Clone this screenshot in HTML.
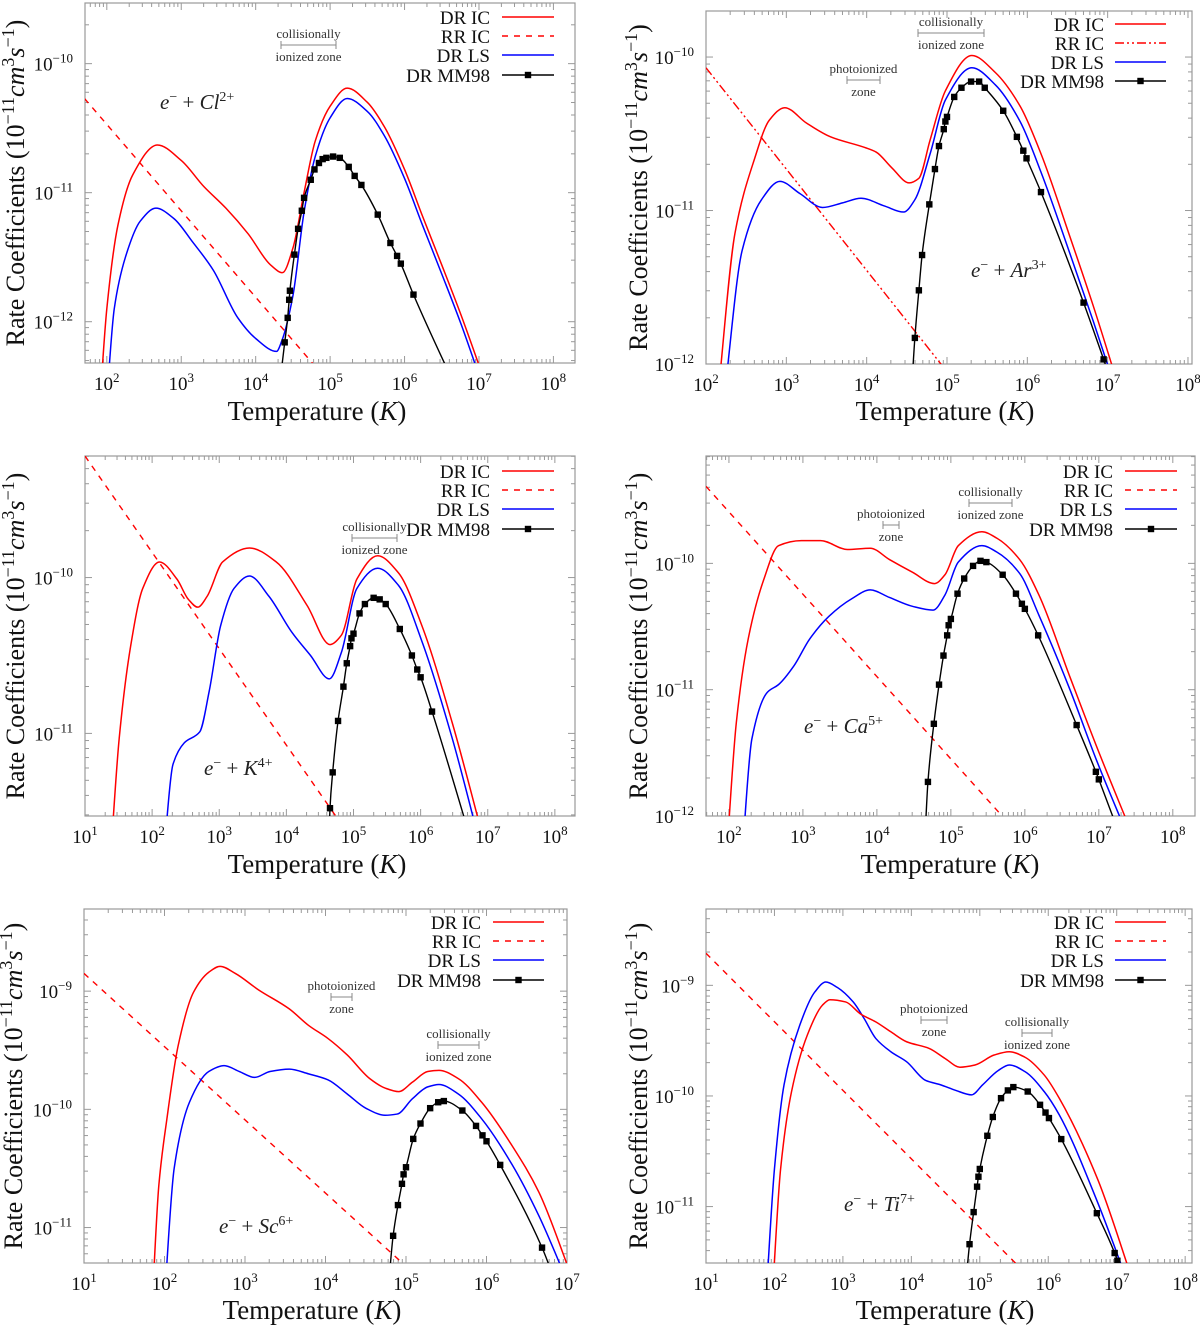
<!DOCTYPE html>
<html>
<head>
<meta charset="utf-8">
<style>
html,body{margin:0;padding:0;background:#fff;}
svg{display:block;font-family:"Liberation Serif",serif;}
</style>
</head>
<body>
<svg id="chart" width="1200" height="1325" viewBox="0 0 1200 1325" xmlns="http://www.w3.org/2000/svg"></svg>
<script>
// ===== DATA (log10 T, log10 rate) =====
// Panel 1: e- + Cl2+
const clRedT=[1.91,2.0,2.15,2.35,2.68,3.0,3.3,3.6,3.9,4.2,4.36,4.5,4.65,4.8,5.0,5.23,5.5,5.73,6.0,6.24,6.5,6.76,7.1];
const clRedR=[-12.6,-11.9,-11.25,-10.86,-10.63,-10.75,-10.95,-11.12,-11.32,-11.56,-11.62,-11.43,-11.0,-10.6,-10.33,-10.19,-10.3,-10.49,-10.82,-11.18,-11.56,-11.95,-12.5];
const clBlueT=[2.0,2.1,2.25,2.45,2.66,2.9,3.15,3.43,3.76,4.0,4.28,4.35,4.5,4.65,4.8,5.0,5.23,5.5,5.73,6.0,6.24,6.5,6.76,7.08];
const clBlueR=[-12.6,-11.9,-11.5,-11.22,-11.12,-11.2,-11.38,-11.6,-11.97,-12.13,-12.23,-12.15,-11.8,-11.15,-10.72,-10.42,-10.27,-10.37,-10.56,-10.89,-11.25,-11.63,-12.02,-12.55];
const clRRT=[1.7,5.0];
const clRRR=[-10.27,-12.48];
const clMMT=[4.30,4.39,4.43,4.45,4.46,4.52,4.57,4.62,4.65,4.74,4.79,4.85,4.9,4.95,5.04,5.13,5.25,5.33,5.42,5.64,5.81,5.9,5.95,6.12,6.76];
const clMMR=[-12.6,-12.16,-11.97,-11.83,-11.76,-11.48,-11.28,-11.14,-11.04,-10.9,-10.82,-10.77,-10.74,-10.73,-10.72,-10.73,-10.8,-10.87,-10.94,-11.17,-11.39,-11.49,-11.55,-11.79,-12.6];
// Panel 2: e- + Ar3+
const arRedT=[2.15,2.36,2.6,2.79,2.98,3.25,3.55,3.98,4.12,4.31,4.53,4.65,4.79,4.98,5.31,5.6,5.91,6.17,6.53,6.82,7.12];
const arRedR=[-12.2,-11.15,-10.67,-10.41,-10.33,-10.43,-10.52,-10.59,-10.62,-10.72,-10.82,-10.79,-10.54,-10.22,-9.99,-10.1,-10.32,-10.63,-11.17,-11.62,-12.12];
const arBlueT=[2.23,2.45,2.69,2.92,3.17,3.45,3.7,3.93,4.22,4.46,4.6,4.79,4.98,5.31,5.6,5.91,6.17,6.53,6.82,7.06];
const arBlueR=[-12.2,-11.26,-10.93,-10.81,-10.89,-10.98,-10.95,-10.92,-10.97,-11.01,-10.93,-10.63,-10.28,-10.07,-10.18,-10.42,-10.75,-11.28,-11.72,-12.1];
const arRRT=[2.0,5.0];
const arRRR=[-10.07,-12.05];
const arMMT=[4.545,4.6,4.65,4.69,4.78,4.85,4.9,4.96,4.98,5.0,5.09,5.18,5.3,5.4,5.47,5.7,5.87,5.95,5.99,6.17,6.7,6.95,7.17];
const arMMR=[-12.3,-11.83,-11.52,-11.29,-10.96,-10.73,-10.58,-10.47,-10.42,-10.39,-10.26,-10.2,-10.16,-10.16,-10.2,-10.35,-10.52,-10.61,-10.66,-10.88,-11.6,-11.97,-12.3];
// Panel 3: e- + K4+
const kRedT=[1.38,1.51,1.68,1.86,2.11,2.37,2.54,2.68,2.82,3.05,3.45,3.85,4.31,4.65,4.82,5.05,5.36,5.67,6.02,6.47,6.95];
const kRedR=[-11.8,-11.03,-10.44,-10.07,-9.9,-10.01,-10.14,-10.19,-10.12,-9.9,-9.81,-9.9,-10.18,-10.43,-10.37,-10.01,-9.86,-9.97,-10.31,-10.93,-11.7];
const kBlueT=[2.17,2.31,2.48,2.71,2.85,3.02,3.22,3.45,3.74,4.08,4.36,4.64,4.82,5.05,5.36,5.67,6.02,6.47,6.88];
const kBlueR=[-11.8,-11.2,-11.06,-10.99,-10.73,-10.31,-10.07,-9.99,-10.12,-10.35,-10.5,-10.65,-10.48,-10.07,-9.94,-10.05,-10.41,-11.03,-11.7];
const kRRT=[1.0,4.8];
const kRRR=[-9.22,-11.57];
const kMMT=[4.63,4.65,4.69,4.77,4.85,4.9,4.95,4.97,5.0,5.09,5.17,5.3,5.39,5.48,5.69,5.87,5.95,6.0,6.17,6.76];
const kMMR=[-11.8,-11.48,-11.25,-10.92,-10.7,-10.55,-10.44,-10.39,-10.36,-10.23,-10.17,-10.13,-10.14,-10.17,-10.33,-10.5,-10.59,-10.64,-10.86,-11.7];
// Panel 4: e- + Ca5+
const caRedT=[1.97,2.1,2.26,2.47,2.67,2.98,3.24,3.6,3.91,4.17,4.48,4.78,4.92,5.1,5.42,5.62,5.93,6.19,6.61,6.97,7.42];
const caRedR=[-12.3,-11.26,-10.6,-10.13,-9.86,-9.82,-9.82,-9.89,-9.88,-9.97,-10.07,-10.16,-10.09,-9.86,-9.75,-9.8,-9.97,-10.25,-10.9,-11.45,-12.1];
const caBlueT=[2.18,2.31,2.52,2.67,2.88,3.09,3.35,3.66,3.91,4.17,4.48,4.76,4.92,5.1,5.42,5.62,5.93,6.19,6.61,6.97,7.35];
const caBlueR=[-12.3,-11.39,-11.02,-10.96,-10.81,-10.6,-10.42,-10.28,-10.21,-10.27,-10.34,-10.37,-10.25,-9.99,-9.86,-9.91,-10.08,-10.41,-11.0,-11.56,-12.1];
const caRRT=[1.69,5.8];
const caRRR=[-9.39,-12.07];
const caMMT=[4.64,4.69,4.77,4.84,4.9,4.95,4.97,5.0,5.09,5.18,5.3,5.4,5.48,5.7,5.88,5.96,6.0,6.18,6.7,6.96,7.0,7.25];
const caMMR=[-12.3,-11.73,-11.27,-10.96,-10.73,-10.57,-10.49,-10.44,-10.24,-10.12,-10.02,-9.98,-9.99,-10.09,-10.24,-10.32,-10.36,-10.57,-11.28,-11.65,-11.71,-12.1];
// Panel 5: e- + Sc6+
const scRedT=[1.85,1.93,2.03,2.17,2.36,2.55,2.69,2.88,3.17,3.55,3.79,4.03,4.27,4.55,4.74,4.91,5.08,5.27,5.41,5.65,5.94,6.32,6.65,7.05];
const scRedR=[-11.6,-10.64,-10.08,-9.46,-9.01,-8.84,-8.79,-8.85,-8.99,-9.15,-9.29,-9.4,-9.54,-9.74,-9.82,-9.85,-9.77,-9.68,-9.67,-9.74,-9.94,-10.31,-10.7,-11.4];
const scBlueT=[2.0,2.12,2.31,2.55,2.74,2.93,3.12,3.31,3.55,3.79,4.03,4.27,4.5,4.74,4.89,5.08,5.27,5.41,5.65,5.94,6.32,6.65,7.0];
const scBlueR=[-11.6,-10.5,-9.94,-9.68,-9.63,-9.68,-9.73,-9.68,-9.66,-9.7,-9.75,-9.87,-9.99,-10.05,-10.04,-9.91,-9.81,-9.79,-9.87,-10.08,-10.47,-10.9,-11.45];
const scRRT=[1.0,5.1];
const scRRR=[-8.85,-11.39];
const scMMT=[4.77,4.84,4.9,4.95,4.97,5.0,5.09,5.18,5.3,5.4,5.47,5.7,5.87,5.95,6.0,6.17,6.69,6.85];
const scMMR=[-11.6,-11.07,-10.81,-10.63,-10.55,-10.49,-10.25,-10.12,-9.99,-9.94,-9.93,-10.01,-10.14,-10.22,-10.27,-10.47,-11.17,-11.45];
// Panel 6: e- + Ti7+
const tiRedT=[1.97,2.09,2.25,2.48,2.7,2.81,3.04,3.26,3.48,3.7,3.93,4.26,4.49,4.71,4.93,5.21,5.43,5.66,5.94,6.16,6.72,7.25];
const tiRedR=[-11.8,-10.66,-9.96,-9.45,-9.18,-9.13,-9.15,-9.26,-9.33,-9.42,-9.51,-9.57,-9.66,-9.74,-9.72,-9.63,-9.6,-9.65,-9.81,-10.02,-10.75,-11.7];
const tiBlueT=[1.88,2.0,2.14,2.37,2.59,2.75,2.92,3.15,3.31,3.48,3.7,3.93,4.21,4.43,4.65,4.88,5.04,5.27,5.43,5.66,5.94,6.16,6.72,7.17];
const tiBlueR=[-11.8,-10.66,-9.9,-9.36,-9.06,-8.97,-9.02,-9.15,-9.3,-9.48,-9.6,-9.69,-9.86,-9.9,-9.95,-9.99,-9.9,-9.77,-9.72,-9.78,-9.96,-10.17,-10.96,-11.7];
const tiRRT=[1.0,5.6];
const tiRRR=[-8.71,-11.56];
const tiMMT=[4.78,4.85,4.91,4.96,4.98,5.0,5.11,5.19,5.31,5.41,5.49,5.7,5.88,5.96,6.01,6.19,6.71,6.97,7.01,7.08];
const tiMMR=[-11.8,-11.34,-11.05,-10.82,-10.73,-10.66,-10.36,-10.19,-10.02,-9.95,-9.92,-9.96,-10.08,-10.15,-10.2,-10.39,-11.06,-11.42,-11.49,-11.8];

const panels=[
 {id:'cl',box:[85,3,575,363],xd:[1.707,8.29],yd:[-12.32,-9.53],xl:[2,3,4,5,6,7,8],yl:[-10,-11,-12],
  red:[clRedT,clRedR],blue:[clBlueT,clBlueR],rr:[clRRT,clRRR],mm:[clMMT,clMMR],rrDash:'6,6',
  ion:['Cl','2+'],ionPos:[160,109],legR:490,legY:[17,36,55,75],legL:[502,554],
  ann:[{t1:'collisionally',t2:'ionized zone',x0:281,x1:336,y:45}],ytx:15,xt:[317,420]},
 {id:'ar',box:[706,11,1192,364],xd:[2,8.05],yd:[-12,-9.70],xl:[2,3,4,5,6,7,8],yl:[-10,-11,-12],
  red:[arRedT,arRedR],blue:[arBlueT,arBlueR],rr:[arRRT,arRRR],mm:[arMMT,arMMR],rrDash:'9,3,2,3,2,3',
  ion:['Ar','3+'],ionPos:[971,277],legR:1104,legY:[24,43,62,81],legL:[1115,1166],
  ann:[{t1:'collisionally',t2:'ionized zone',x0:918,x1:984,y:33},{t1:'photoionized',t2:'zone',x0:847,x1:880,y:80}],ytx:638,xt:[945,420]},
 {id:'k',box:[85,456,575,816],xd:[1,8.30],yd:[-11.53,-9.22],xl:[1,2,3,4,5,6,7,8],yl:[-10,-11],
  red:[kRedT,kRedR],blue:[kBlueT,kBlueR],rr:[kRRT,kRRR],mm:[kMMT,kMMR],rrDash:'6,6',
  ion:['K','4+'],ionPos:[204,775],legR:490,legY:[471,490,509,529],legL:[502,554],
  ann:[{t1:'collisionally',t2:'ionized zone',x0:352,x1:397,y:538}],ytx:15,xt:[317,873]},
 {id:'ca',box:[706,456,1195,816],xd:[1.69,8.30],yd:[-12,-9.15],xl:[2,3,4,5,6,7,8],yl:[-10,-11,-12],
  red:[caRedT,caRedR],blue:[caBlueT,caBlueR],rr:[caRRT,caRRR],mm:[caMMT,caMMR],rrDash:'6,6',
  ion:['Ca','5+'],ionPos:[804,733],legR:1113,legY:[471,490,509,529],legL:[1125,1177],
  ann:[{t1:'collisionally',t2:'ionized zone',x0:969,x1:1012,y:503},{t1:'photoionized',t2:'zone',x0:883,x1:899,y:525}],ytx:638,xt:[950,873]},
 {id:'sc',box:[84,909,567,1263],xd:[1,7],yd:[-11.30,-8.305],xl:[1,2,3,4,5,6,7],yl:[-9,-10,-11],
  red:[scRedT,scRedR],blue:[scBlueT,scBlueR],rr:[scRRT,scRRR],mm:[scMMT,scMMR],rrDash:'6,6',
  ion:['Sc','6+'],ionPos:[219,1233],legR:481,legY:[922,941,960,980],legL:[493,544],
  ann:[{t1:'photoionized',t2:'zone',x0:331,x1:352,y:997},{t1:'collisionally',t2:'ionized zone',x0:438,x1:479,y:1045}],ytx:13,xt:[312,1319]},
 {id:'ti',box:[706,909,1192,1263],xd:[1,8.1],yd:[-11.51,-8.31],xl:[1,2,3,4,5,6,7,8],yl:[-9,-10,-11],
  red:[tiRedT,tiRedR],blue:[tiBlueT,tiBlueR],rr:[tiRRT,tiRRR],mm:[tiMMT,tiMMR],rrDash:'6,6',
  ion:['Ti','7+'],ionPos:[844,1211],legR:1104,legY:[922,941,960,980],legL:[1115,1166],
  ann:[{t1:'photoionized',t2:'zone',x0:921,x1:947,y:1020},{t1:'collisionally',t2:'ionized zone',x0:1022,x1:1052,y:1033}],ytx:638,xt:[945,1319]}
];

const NS='http://www.w3.org/2000/svg';
const svg=document.getElementById('chart');
function mk(tag,attrs,parent){const e=document.createElementNS(NS,tag);for(const k in attrs)e.setAttribute(k,attrs[k]);(parent||svg).appendChild(e);return e;}
// monotone cubic (Fritsch-Carlson) through points with increasing x
function smooth(p){
  const n=p.length;
  if(n<3) return 'M'+p.map(q=>q[0].toFixed(2)+','+q[1].toFixed(2)).join(' L');
  const dx=[],s=[];
  for(let i=0;i<n-1;i++){dx.push(p[i+1][0]-p[i][0]);s.push((p[i+1][1]-p[i][1])/dx[i]);}
  const m=[s[0]];
  for(let i=1;i<n-1;i++){
    if(s[i-1]*s[i]<=0) m.push(0);
    else{const w1=2*dx[i]+dx[i-1],w2=dx[i]+2*dx[i-1];m.push((w1+w2)/(w1/s[i-1]+w2/s[i]));}
  }
  m.push(s[n-2]);
  let d='M'+p[0][0].toFixed(2)+','+p[0][1].toFixed(2);
  for(let i=0;i<n-1;i++){
    const h=dx[i]/3;
    d+=' C'+(p[i][0]+h).toFixed(2)+','+(p[i][1]+m[i]*h).toFixed(2)+' '+(p[i+1][0]-h).toFixed(2)+','+(p[i+1][1]-m[i+1]*h).toFixed(2)+' '+p[i+1][0].toFixed(2)+','+p[i+1][1].toFixed(2);
  }
  return d;
}
function supText(parent,base,sup,fs){
  const a=mk('tspan',{},parent);a.textContent=base;
  const b=mk('tspan',{'font-size':Math.round(fs*0.68),dy:-Math.round(fs*0.42)},parent);b.textContent=sup;
}

panels.forEach((P,pi)=>{
  const [x0,y0,x1,y1]=P.box;
  const sx=v=>x0+(v-P.xd[0])/(P.xd[1]-P.xd[0])*(x1-x0);
  const sy=v=>y1-(v-P.yd[0])/(P.yd[1]-P.yd[0])*(y1-y0);
  const g=mk('g',{});
  
  
  const cp=mk('clipPath',{id:'clip'+pi},g);
  mk('rect',{x:x0,y:y0,width:x1-x0,height:y1-y0},cp);

  const tg=mk('g',{stroke:'#999','stroke-width':1},g);
  
  
  for(let d=Math.floor(P.xd[0]);d<=Math.ceil(P.xd[1]);d++){
    for(let m=1;m<10;m++){
      const v=d+Math.log10(m); if(v<P.xd[0]-1e-6||v>P.xd[1]+1e-6) continue;
      const x=sx(v),L=m===1?7:4;
      mk('line',{x1:x,y1:y1,x2:x,y2:y1-L},tg);mk('line',{x1:x,y1:y0,x2:x,y2:y0+L},tg);
    }
  }
  for(let d=Math.floor(P.yd[0]);d<=Math.ceil(P.yd[1]);d++){
    for(let m=1;m<10;m++){
      const v=d+Math.log10(m); if(v<P.yd[0]-1e-6||v>P.yd[1]+1e-6) continue;
      const y=sy(v),L=m===1?7:4;
      mk('line',{x1:x0,y1:y,x2:x0+L,y2:y},tg);mk('line',{x1:x1,y1:y,x2:x1-L,y2:y},tg);
    }
  }
  const box=mk('rect',{x:x0,y:y0,width:x1-x0,height:y1-y0,fill:'none',stroke:'#999','stroke-width':1.2},g);
  
  

  P.xl.forEach(v=>{
    const t=mk('text',{x:sx(v),y:y1+27,'font-size':19,'text-anchor':'middle',fill:'#111'},g);
    
    
    supText(t,'10',String(v),19);
  });
  P.yl.forEach(v=>{
    const t=mk('text',{x:x0-12,y:sy(v)+7,'font-size':19,'text-anchor':'end',fill:'#111'},g);
    
    
    supText(t,'10','\u2212'+Math.abs(v),19);
  });

  const xt=mk('text',{x:P.xt[0],y:P.xt[1],'font-size':27,'text-anchor':'middle',fill:'#111'},g);
  
  
  const xa=mk('tspan',{},xt);xa.textContent='Temperature (';
  const xb=mk('tspan',{'font-style':'italic'},xt);xb.textContent='K';
  const xc=mk('tspan',{},xt);xc.textContent=')';
  const cy=(y0+y1)/2;
  const yt=mk('text',{x:0,y:0,'font-size':26,'text-anchor':'middle',fill:'#111',transform:'translate('+(P.ytx+9)+','+cy+') rotate(-90)'},g);
  
  
  const ya=mk('tspan',{},yt);ya.textContent='Rate Coefficients (10';
  const yb=mk('tspan',{'font-size':18,dy:-10},yt);yb.textContent='\u221211';
  const yc=mk('tspan',{'font-style':'italic',dy:10},yt);yc.textContent='cm';
  const yd=mk('tspan',{'font-size':18,dy:-10},yt);yd.textContent='3';
  const ye=mk('tspan',{'font-style':'italic',dy:10},yt);ye.textContent='s';
  const yf=mk('tspan',{'font-size':18,dy:-10},yt);yf.textContent='\u22121';
  const yg=mk('tspan',{dy:10},yt);yg.textContent=')';

  const sg=mk('g',{'clip-path':'url(#clip'+pi+')',fill:'none'},g);
  
  
  const pts=a=>a[0].map((t,i)=>[sx(t),sy(a[1][i])]);
  const rr=mk('path',{d:'M'+pts(P.rr).map(p=>p[0].toFixed(2)+','+p[1].toFixed(2)).join(' L'),stroke:'#f00','stroke-width':1.4,'stroke-dasharray':P.rrDash},sg);
  
  
  const bl=mk('path',{d:smooth(pts(P.blue)),stroke:'#00f','stroke-width':1.5},sg);
  
  
  const rd=mk('path',{d:smooth(pts(P.red)),stroke:'#f00','stroke-width':1.5},sg);
  
  
  const mp=pts(P.mm);
  const mm=mk('path',{d:smooth(mp),stroke:'#000','stroke-width':1.4},sg);
  
  
  mp.forEach(p=>{
    const s=mk('rect',{x:p[0]-3.2,y:p[1]-3.2,width:6.4,height:6.4,fill:'#000'},sg);
    
    
  });

  const lg=mk('g',{},g);
  
  
  const labels=['DR IC','RR IC','DR LS','DR MM98'];
  const colors=['#f00','#f00','#00f','#000'];
  const dashes=['none',P.rrDash,'none','none'];
  labels.forEach((lab,i)=>{
    const y=P.legY[i];
    const t=mk('text',{x:P.legR,y:y+7,'font-size':19,'text-anchor':'end',fill:'#111'},lg);
    
    
    t.textContent=lab;
    const l=mk('line',{x1:P.legL[0],y1:y,x2:P.legL[1],y2:y,stroke:colors[i],'stroke-width':1.5,'stroke-dasharray':dashes[i]},lg);
    
    
    if(i===3){
      const m=mk('rect',{x:(P.legL[0]+P.legL[1])/2-3.2,y:y-3.2,width:6.4,height:6.4,fill:'#000'},lg);
      
      
    }
  });

  P.ann.forEach(a=>{
    const ag=mk('g',{},g);
    
    
    const cx=(a.x0+a.x1)/2;
    const t1=mk('text',{x:cx,y:a.y-7,'font-size':13,'text-anchor':'middle',fill:'#333'},ag);t1.textContent=a.t1;
    const t2=mk('text',{x:cx,y:a.y+16,'font-size':13,'text-anchor':'middle',fill:'#333'},ag);t2.textContent=a.t2;
    mk('line',{x1:a.x0,y1:a.y,x2:a.x1,y2:a.y,stroke:'#888','stroke-width':1},ag);
    mk('line',{x1:a.x0,y1:a.y-4,x2:a.x0,y2:a.y+4,stroke:'#888','stroke-width':1},ag);
    mk('line',{x1:a.x1,y1:a.y-4,x2:a.x1,y2:a.y+4,stroke:'#888','stroke-width':1},ag);
  });

  const it=mk('text',{x:P.ionPos[0],y:P.ionPos[1],'font-size':21,fill:'#222'},g);
  
  
  const i1=mk('tspan',{'font-style':'italic'},it);i1.textContent='e';
  const i2=mk('tspan',{'font-size':14,dy:-8},it);i2.textContent='\u2212';
  const i3=mk('tspan',{dy:8},it);i3.textContent=' + ';
  const i4=mk('tspan',{'font-style':'italic'},it);i4.textContent=P.ion[0];
  const i5=mk('tspan',{'font-size':14,dy:-8},it);i5.textContent=P.ion[1];
});
</script>
</body>
</html>
